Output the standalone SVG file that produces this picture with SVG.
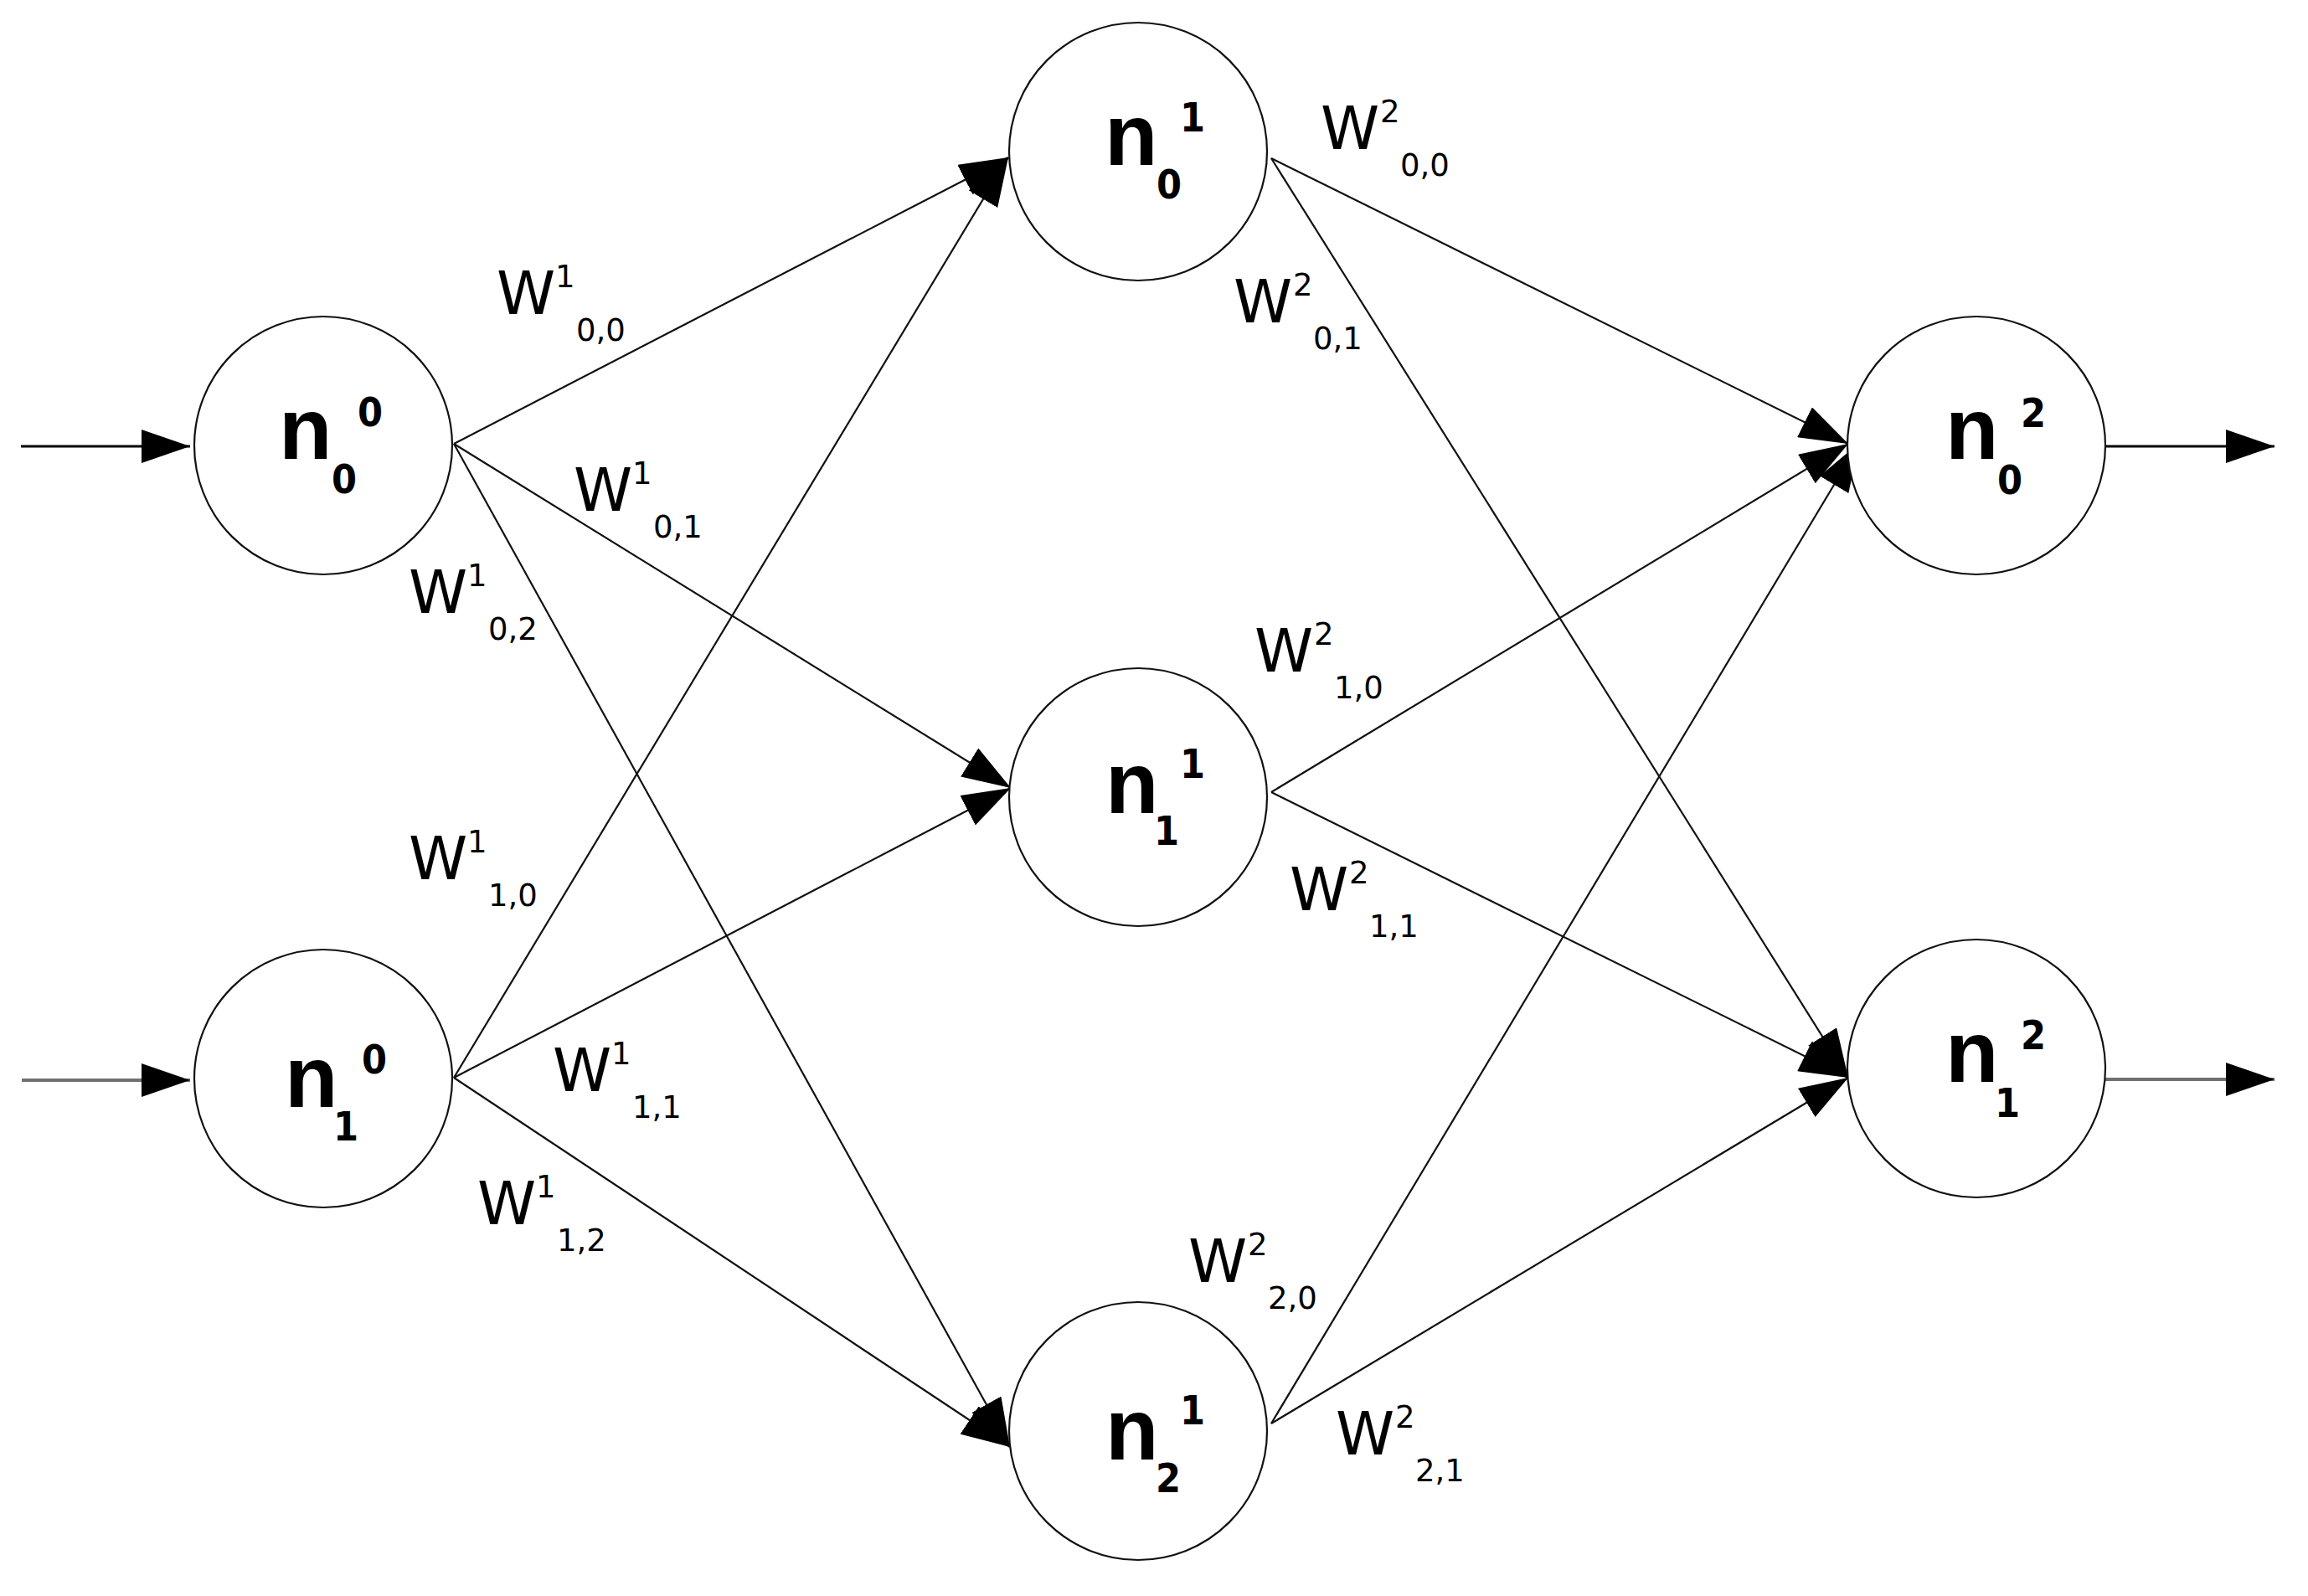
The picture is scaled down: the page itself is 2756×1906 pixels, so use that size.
<svg xmlns="http://www.w3.org/2000/svg" width="2756" height="1906" viewBox="0 0 2756 1906">
<defs>
<marker id="arr" markerUnits="userSpaceOnUse" markerWidth="60" markerHeight="40" refX="58" refY="20" orient="auto"><path d="M0,0 L58,20 L0,40 z" fill="#000"/></marker>
<style>
.node{fill:#fff;stroke:#111;stroke-width:2.2}
.edge{stroke:#111;stroke-width:2.2;fill:none}
.io{stroke:#000;stroke-width:3;fill:none}
.iog{stroke:#707070;stroke-width:4;fill:none}
.n{font-family:"Liberation Sans",Arial,sans-serif;font-weight:bold;font-size:104px;fill:#000}
.d{font-family:"DejaVu Sans Condensed","Liberation Sans",sans-serif;font-weight:bold;font-size:48px;fill:#000}
.w{font-family:"DejaVu Sans","Liberation Sans",sans-serif;font-size:71px;fill:#000}
.s{font-family:"DejaVu Sans","Liberation Sans",sans-serif;font-size:37px;fill:#000}
</style>
</defs>
<rect width="2756" height="1906" fill="#fff"/>
<g id="connectors">
<line class="io" x1="25" y1="533" x2="227" y2="533" marker-end="url(#arr)"/>
<line class="iog" x1="26" y1="1290" x2="227" y2="1290" marker-end="url(#arr)"/>
<line class="io" x1="2513" y1="533" x2="2716" y2="533" marker-end="url(#arr)"/>
<line class="iog" x1="2513" y1="1289" x2="2716" y2="1289" marker-end="url(#arr)"/>
<line class="edge" x1="542" y1="530" x2="1204" y2="188" marker-end="url(#arr)"/>
<line class="edge" x1="542" y1="530" x2="1207" y2="941" marker-end="url(#arr)"/>
<line class="edge" x1="542" y1="530" x2="1206" y2="1728" marker-end="url(#arr)"/>
<line class="edge" x1="542" y1="1287" x2="1204" y2="188" marker-end="url(#arr)"/>
<line class="edge" x1="542" y1="1287" x2="1207" y2="941" marker-end="url(#arr)"/>
<line class="edge" x1="542" y1="1287" x2="1206" y2="1728" marker-end="url(#arr)"/>
<line class="edge" x1="1518" y1="189" x2="2207" y2="530" marker-end="url(#arr)"/>
<line class="edge" x1="1518" y1="189" x2="2207" y2="1287" marker-end="url(#arr)"/>
<line class="edge" x1="1518" y1="946" x2="2207" y2="530" marker-end="url(#arr)"/>
<line class="edge" x1="1518" y1="946" x2="2207" y2="1287" marker-end="url(#arr)"/>
<line class="edge" x1="1518" y1="1700" x2="2220" y2="529" marker-end="url(#arr)"/>
<line class="edge" x1="1518" y1="1700" x2="2207" y2="1287" marker-end="url(#arr)"/>
</g>
<g id="n0_0">
<circle class="node" cx="386" cy="532" r="154"/>
<text class="n" x="333" y="548">n</text><text class="d" x="396" y="589">0</text><text class="d" x="427" y="509">0</text>
</g>
<g id="n1_0">
<circle class="node" cx="386" cy="1288" r="154"/>
<text class="n" x="340" y="1322">n</text><text class="d" x="398" y="1362">1</text><text class="d" x="432" y="1282">0</text>
</g>
<g id="n0_1">
<circle class="node" cx="1359" cy="181" r="154"/>
<text class="n" x="1319" y="197">n</text><text class="d" x="1381" y="237">0</text><text class="d" x="1409" y="157">1</text>
</g>
<g id="n1_1">
<circle class="node" cx="1359" cy="952" r="154"/>
<text class="n" x="1320" y="971">n</text><text class="d" x="1378" y="1009">1</text><text class="d" x="1409" y="929">1</text>
</g>
<g id="n2_1">
<circle class="node" cx="1359" cy="1709" r="154"/>
<text class="n" x="1320" y="1743">n</text><text class="d" x="1380" y="1782">2</text><text class="d" x="1409" y="1701">1</text>
</g>
<g id="n0_2">
<circle class="node" cx="2360" cy="532" r="154"/>
<text class="n" x="2323" y="548">n</text><text class="d" x="2385" y="590">0</text><text class="d" x="2413" y="510">2</text>
</g>
<g id="n1_2">
<circle class="node" cx="2360" cy="1276" r="154"/>
<text class="n" x="2323" y="1292">n</text><text class="d" x="2382" y="1334">1</text><text class="d" x="2413" y="1253">2</text>
</g>
<g id="labels">
<g><text class="w" x="593" y="375">W</text><text class="s" x="663" y="343">1</text><text class="s" x="688" y="407">0,0</text></g>
<g><text class="w" x="685" y="610">W</text><text class="s" x="755" y="578">1</text><text class="s" x="780" y="642">0,1</text></g>
<g><text class="w" x="488" y="732">W</text><text class="s" x="558" y="700">1</text><text class="s" x="583" y="764">0,2</text></g>
<g><text class="w" x="488" y="1050">W</text><text class="s" x="558" y="1018">1</text><text class="s" x="583" y="1082">1,0</text></g>
<g><text class="w" x="660" y="1303">W</text><text class="s" x="730" y="1271">1</text><text class="s" x="755" y="1335">1,1</text></g>
<g><text class="w" x="570" y="1462">W</text><text class="s" x="640" y="1430">1</text><text class="s" x="665" y="1494">1,2</text></g>
<g><text class="w" x="1577" y="178">W</text><text class="s" x="1648" y="146">2</text><text class="s" x="1672" y="210">0,0</text></g>
<g><text class="w" x="1473" y="385">W</text><text class="s" x="1544" y="353">2</text><text class="s" x="1568" y="417">0,1</text></g>
<g><text class="w" x="1498" y="802">W</text><text class="s" x="1569" y="770">2</text><text class="s" x="1593" y="834">1,0</text></g>
<g><text class="w" x="1540" y="1087">W</text><text class="s" x="1611" y="1055">2</text><text class="s" x="1635" y="1119">1,1</text></g>
<g><text class="w" x="1419" y="1531">W</text><text class="s" x="1490" y="1499">2</text><text class="s" x="1514" y="1563">2,0</text></g>
<g><text class="w" x="1595" y="1737">W</text><text class="s" x="1666" y="1705">2</text><text class="s" x="1690" y="1769">2,1</text></g>
</g>
</svg>
